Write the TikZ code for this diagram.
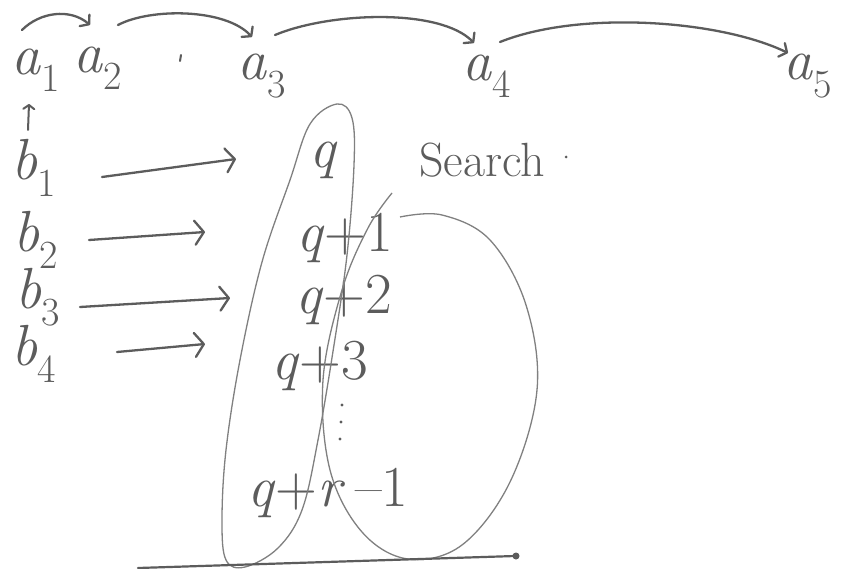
\documentclass[tikz,border=0pt]{standalone}
\usepackage{fontspec}
\usetikzlibrary{arrows.meta}
\definecolor{ink}{HTML}{5C5C5C}
\definecolor{pencil}{HTML}{808080}
\newcommand{\lsub}[2]{\textit{#1}\raisebox{-0.3em}{\fontsize{40}{44}\selectfont #2}}
\begin{document}
\begin{tikzpicture}[x=1pt,y=-1pt,
  lbl/.style={text=ink, font=\fontsize{58}{64}\selectfont, inner sep=0pt},
  word/.style={text=ink, font=\fontsize{48}{54}\selectfont, inner sep=0pt},
  conn/.style={draw=ink, line width=2.3pt, line cap=round,
    -{Straight Barb[length=9pt,width=24pt,round]}},
  topconn/.style={draw=ink, line width=2.3pt, line cap=round,
    -{Straight Barb[length=6pt,width=15pt,round]}},
  loopline/.style={draw=pencil, line width=1.3pt},
]
\useasboundingbox[fill=white] (0,0) rectangle (848,569);

% top row
\node[lbl] (a1) at (36,70) {\lsub{a}{1}};
\node[lbl] (a2) at (98,68) {\lsub{a}{2}};
\node[lbl] (a3) at (262,76) {\lsub{a}{3}};
\node[lbl] (a4) at (487,76) {\lsub{a}{4}};
\node[lbl] (a5) at (808,76) {\lsub{a}{5}};

\coordinate (a1s) at (22,30);
\coordinate (a2e) at (90,25);
\coordinate (a2s) at (118,25);
\coordinate (a3e) at (252,37);
\coordinate (a3s) at (275,35);
\coordinate (a4e) at (474,43);
\coordinate (a4s) at (500,42);
\coordinate (a5e) at (788,53);

\draw[topconn] (a1s) .. controls (40,12) and (70,8) .. (a2e);
\draw[topconn] (a2s) .. controls (150,8) and (225,8) .. (a3e);
\draw[topconn] (a3s) .. controls (330,12) and (440,8) .. (a4e);
\draw[topconn] (a4s) .. controls (580,10) and (720,20) .. (a5e);

% stray mark
\draw[ink, line width=2pt, line cap=round] (181,55) -- (180,61);

% up arrow under a1
\coordinate (up0) at (28,130);
\coordinate (up1) at (29,104);
\draw[draw=ink, line width=2pt, line cap=round,
  -{Straight Barb[length=4pt,width=11pt,round]}] (up0) -- (up1);

% b column
\node[lbl] (b1) at (34,168) {\lsub{b}{1}};
\node[lbl] (b2) at (36,240) {\lsub{b}{2}};
\node[lbl] (b3) at (38,297) {\lsub{b}{3}};
\node[lbl] (b4) at (34,354) {\lsub{b}{4}};

\coordinate (b1s) at (102,177);
\coordinate (b1e) at (236,159);
\coordinate (b2s) at (89,240);
\coordinate (b2e) at (205,232);
\coordinate (b3s) at (80,307);
\coordinate (b3e) at (230,298);
\coordinate (b4s) at (117,352);
\coordinate (b4e) at (205,344);
\draw[conn] (b1s) -- (b1e);
\draw[conn] (b2s) -- (b2e);
\draw[conn] (b3s) -- (b3e);
\draw[conn] (b4s) -- (b4e);

% q column
\node[lbl] (q0) at (324,160) {\textit{q}};
\node[lbl] (q1) at (345,238) {\textit{q}+1};
\node[lbl] (q2) at (344,300) {\textit{q}+2};
\node[lbl] (q3) at (320,366) {\textit{q}+3};
\node[lbl] (qr) at (328,493) {\textit{q}+\textit{r}\,--1};
% vertical dots
\fill[ink] (342,405) circle (1.6) (341,422) circle (1.6) (340,439) circle (1.6);

\node[word] (search) at (482,160) {Search};
\fill[ink] (566,157) circle (1.5);

% tall loop around the q column
\draw[loopline] plot[smooth cycle, tension=0.6] coordinates {
  (337,104) (352,118) (354,165) (347,255) (334,345) (318,440) (302,510)
  (278,548) (245,567) (226,560) (222,520) (226,450) (240,360) (262,262)
  (290,180) (310,124)};

% big loop (search region)
\draw[loopline] plot[smooth, tension=0.6] coordinates {
  (392,193) (368,228) (342,290) (323,380) (330,470) (362,532) (408,559)
  (462,545) (510,482) (537,390) (526,305) (490,240) (442,215) (400,217)};

% base line
\draw[draw=ink, line width=2.2pt, line cap=round] (138,568) -- (515,556);
\fill[ink] (516,556) circle (3.5);
\end{tikzpicture}
\end{document}
